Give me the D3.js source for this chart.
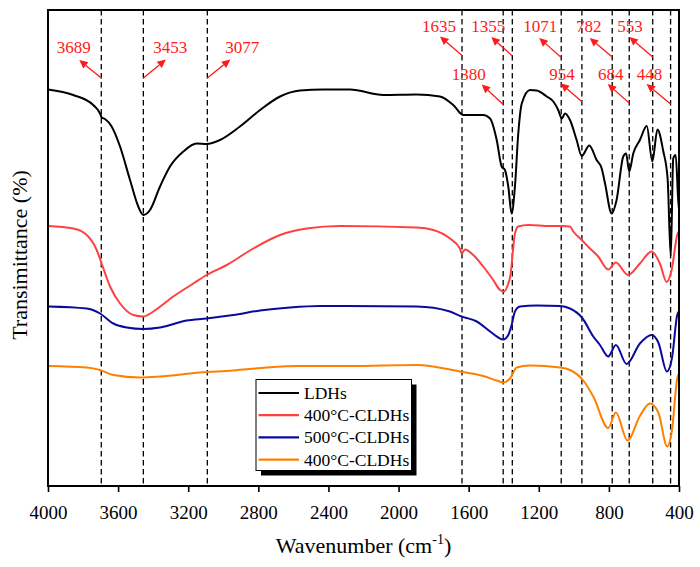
<!DOCTYPE html>
<html><head><meta charset="utf-8">
<script src="https://cdn.jsdelivr.net/npm/d3@7/dist/d3.min.js"></script>
<style>
html,body{margin:0;padding:0;background:#fff;}
svg{display:block;}
svg text{font-family:"Liberation Serif","DejaVu Serif",serif;}
</style></head>
<body>
<svg id="chart" width="700" height="567"></svg>
<script>
// ---------- data ----------
const xTicks = [4000, 3600, 3200, 2800, 2400, 2000, 1600, 1200, 800, 400];

const seriesNames = ["LDHs", "400°C-CLDHs", "500°C-CLDHs", "400°C-CLDHs"];

const ldhsWave = [4000,3856,3742,3703,3694,3675,3637,3589,3532,3485,3456,3418,3361,3304,3228,3152,3095,3019,2905,2790,2676,2562,2429,2334,2277,2087,1897,1764,1688,1631,1517,1478,1440,1412,1393,1374,1355,1336,1317,1297,1250,1212,1155,1117,1089,1069,1050,1022,984,955,912,870,841,822,784,756,718,702,684,661,623,584,552,523,490,465,447,433,419,404,400];
const ldhsT    = [79.3,78.2,76.2,74.5,73.7,73.4,71.9,67.9,61.2,55.9,54.2,55.2,59.9,63.9,66.9,68.5,68.4,69.2,71.9,75.2,77.9,79.1,79.3,79.3,79.3,78.2,78.3,77.9,76.2,74.2,74.2,73.5,69.2,63.9,63.2,59.9,54.5,59.9,70.5,76.5,79.2,79.1,77.9,76.9,75.2,73.5,74.5,73.2,69.2,66.0,68.1,65.2,63.5,60.5,54.5,57.2,65.9,66.5,62.9,66.5,69.2,72.0,64.9,71.3,67.0,61.5,45.9,65.5,66.2,56.9,55.5];

const cldh400Wave = [4000,3856,3779,3722,3694,3646,3589,3513,3456,3399,3285,3171,3095,2980,2829,2676,2524,2334,1897,1802,1707,1650,1640,1621,1574,1517,1460,1421,1399,1374,1360,1349,1336,1317,1260,1136,1069,1022,1003,955,908,861,804,760,691,623,556,509,470,442,410,400];
const cldh400T    = [52.0,51.5,50.2,47.2,44.5,39.9,36.5,34.2,33.9,34.9,37.9,40.5,42.2,44.2,47.5,50.2,51.5,52.0,51.7,51.2,49.5,47.5,46.5,47.3,46.2,43.9,41.2,39.2,38.9,40.5,42.5,46.5,50.5,51.9,52.2,52.0,52.0,51.9,50.9,49.2,47.5,45.9,43.3,44.7,42.2,44.5,46.9,44.5,40.8,43.2,50.2,51.0];

const cldh500Wave = [4000,3779,3703,3627,3551,3456,3361,3209,3095,2943,2790,2619,2448,1897,1707,1640,1621,1554,1478,1431,1403,1374,1355,1336,1307,1212,1079,1022,954,889,851,804,760,699,623,556,518,469,440,410,400];
const cldh500T    = [35.9,35.5,34.5,32.5,31.7,31.4,31.7,33.1,33.5,34.2,35.1,35.7,36.0,35.9,34.9,33.9,33.7,32.9,30.9,29.7,29.3,30.2,32.2,34.9,35.9,36.1,36.0,35.5,33.7,29.9,28.2,25.9,28.2,24.4,28.5,30.2,28.7,22.9,25.6,34.2,35.0];

const cldh400bWave = [4000,3779,3703,3627,3475,3361,3133,2943,2752,2562,2277,1897,1650,1517,1440,1403,1364,1326,1250,1079,1022,946,889,804,760,694,623,566,518,467,440,410,400];
const cldh400bT    = [24.0,23.7,23.2,22.2,21.7,21.9,22.7,23.1,23.7,24.0,24.0,24.2,22.9,22.0,21.1,20.7,21.5,23.7,24.1,23.7,23.2,21.1,17.9,11.6,14.7,9.1,14.0,16.5,14.7,7.9,11.2,21.5,22.5];

// peak annotations: where the dashed lines sit and what they are labelled
const peakLabels = ["3689","3453","3077","1635","1380","1355","1071","954","782","684","553","448"];
const peakLines  = [3696, 3456, 3091, 1638, 1403, 1351, 1072, 954, 781, 684, 550, 448];

// ---------- layout ----------
const W = 700, H = 567;
const M = {left: 48, right: 21, top: 10, bottom: 81};
const pw = W - M.left - M.right, ph = H - M.top - M.bottom;
const colors = ["#000000", "#ff4040", "#0a0a9e", "#ff8000"];
const FONT = "'Liberation Serif','DejaVu Serif',serif";

const svg = d3.select("#chart");
const g = svg.append("g").attr("transform", `translate(${M.left},${M.top})`);

const x = d3.scaleLinear().domain([4000, 400]).range([0, pw]);
const y = d3.scaleLinear().domain([0, 95.2]).range([ph, 0]);

// dashed lines
g.append("g").selectAll("line").data(peakLines).join("line")
  .attr("x1", d => x(d)).attr("x2", d => x(d))
  .attr("y1", 0).attr("y2", ph)
  .attr("stroke", "#000").attr("stroke-width", 1.3)
  .attr("stroke-dasharray", "5.5,3.5");

// curves
const series = [
  {w: ldhsWave, t: ldhsT},
  {w: cldh400Wave, t: cldh400T},
  {w: cldh500Wave, t: cldh500T},
  {w: cldh400bWave, t: cldh400bT}
];
const line = d3.line().x(d => x(d[0])).y(d => y(d[1])).curve(d3.curveMonotoneX);
series.forEach((s, i) => {
  const pts = s.w.map((w, k) => [w, s.t[k]]);
  g.append("path").datum(pts)
    .attr("fill", "none").attr("stroke", colors[i])
    .attr("stroke-width", 2).attr("stroke-linejoin", "round")
    .attr("d", line);
});

// annotations (arrows + labels), one layout entry per peak label, same order
const annLayout = [
  {sy: 68,   dx: -22,   dy: -18,   tx: -5.5, ty: 43},  // 3689
  {sy: 68,   dx: 22.5,  dy: -18.5, tx: 4.5,  ty: 43},  // 3453
  {sy: 68,   dx: 23,    dy: -18.5, tx: 12,   ty: 43},  // 3077
  {sy: 45.5, dx: -22,   dy: -19,   tx: -1,   ty: 22},  // 1635
  {sy: 94.5, dx: -21.5, dy: -20,   tx: -13,  ty: 70},  // 1380
  {sy: 46,   dx: -21,   dy: -19,   tx: -3,   ty: 22},  // 1355
  {sy: 47.5, dx: -22,   dy: -19.5, tx: 1,    ty: 22},  // 1071
  {sy: 91.7, dx: -21.3, dy: -18.4, tx: 1.3,  ty: 70},  // 954
  {sy: 47,   dx: -22.5, dy: -19,   tx: -1,   ty: 22},  // 782
  {sy: 93,   dx: -21.5, dy: -19,   tx: 3,    ty: 70},  // 684
  {sy: 47,   dx: -23.4, dy: -20,   tx: 0.7,  ty: 22},  // 553
  {sy: 94,   dx: -24,   dy: -20,   tx: 3,    ty: 70}   // 448
];
const red = "#ff1a1a";
const annG = g.append("g");
peakLabels.forEach((lab, i) => {
  const L = annLayout[i];
  const sx = x(peakLines[i]), sy = L.sy;
  const hx = sx + L.dx, hy = sy + L.dy;
  const len = Math.hypot(L.dx, L.dy);
  const ux = L.dx / len, uy = L.dy / len;
  const hl = 8.5, hw = 4;
  const bx = hx - ux * hl, by = hy - uy * hl;
  annG.append("line")
    .attr("x1", sx).attr("y1", sy).attr("x2", bx).attr("y2", by)
    .attr("stroke", red).attr("stroke-width", 1.3);
  annG.append("path")
    .attr("d", `M${hx},${hy}L${bx - uy * hw},${by + ux * hw}L${bx + uy * hw},${by - ux * hw}Z`)
    .attr("fill", red);
  annG.append("text")
    .attr("x", hx + L.tx).attr("y", L.ty)
    .attr("text-anchor", "middle")
    .attr("font-family", FONT)
    .attr("font-size", 17).attr("fill", red)
    .text(lab);
});

// x axis
const xAxis = g.append("g").attr("transform", `translate(0,${ph})`)
  .call(d3.axisBottom(x).tickValues(xTicks).tickFormat(d3.format("d")).tickSize(6).tickSizeOuter(0));
xAxis.attr("font-family", FONT);
xAxis.select(".domain").remove();
xAxis.selectAll(".tick line").attr("stroke", "#000").attr("stroke-width", 1.6);
xAxis.selectAll(".tick text")
  .attr("y", 33).attr("dy", null)
  .attr("font-size", 19).attr("font-family", FONT)
  .attr("fill", "#000");

// frame
g.append("rect").attr("x", 0).attr("y", 0).attr("width", pw).attr("height", ph)
  .attr("fill", "none").attr("stroke", "#000").attr("stroke-width", 2);

// axis titles
const xt = svg.append("text")
  .attr("x", M.left + pw / 2).attr("y", 553)
  .attr("text-anchor", "middle").attr("font-family", FONT)
  .attr("font-size", 22).attr("fill", "#000");
xt.append("tspan").text("Wavenumber (cm");
xt.append("tspan").attr("font-size", 14).attr("dy", -9).text("-1");
xt.append("tspan").attr("dy", 9).text(")");

svg.append("text")
  .attr("transform", `translate(27,${M.top + ph / 2 + 7}) rotate(-90)`)
  .attr("text-anchor", "middle").attr("font-family", FONT)
  .attr("font-size", 22).attr("fill", "#000")
  .text("Transimittance (%)");

// legend
const lg = svg.append("g").attr("transform", "translate(256,379.5)");
const lw = 155.5, lh = 91;
lg.append("rect").attr("x", 5).attr("y", 5).attr("width", lw).attr("height", lh).attr("fill", "#000");
lg.append("rect").attr("x", 0).attr("y", 0).attr("width", lw).attr("height", lh)
  .attr("fill", "#fff").attr("stroke", "#000").attr("stroke-width", 1);
seriesNames.forEach((name, i) => {
  const cy = 13.5 + i * 22.2;
  lg.append("line").attr("x1", 2.5).attr("x2", 43).attr("y1", cy).attr("y2", cy)
    .attr("stroke", colors[i]).attr("stroke-width", 2.2);
  lg.append("text").attr("x", 48).attr("y", cy + 6)
    .attr("font-family", FONT)
    .attr("font-size", 17.5).attr("fill", "#000").text(name);
});
</script>
</body></html>
